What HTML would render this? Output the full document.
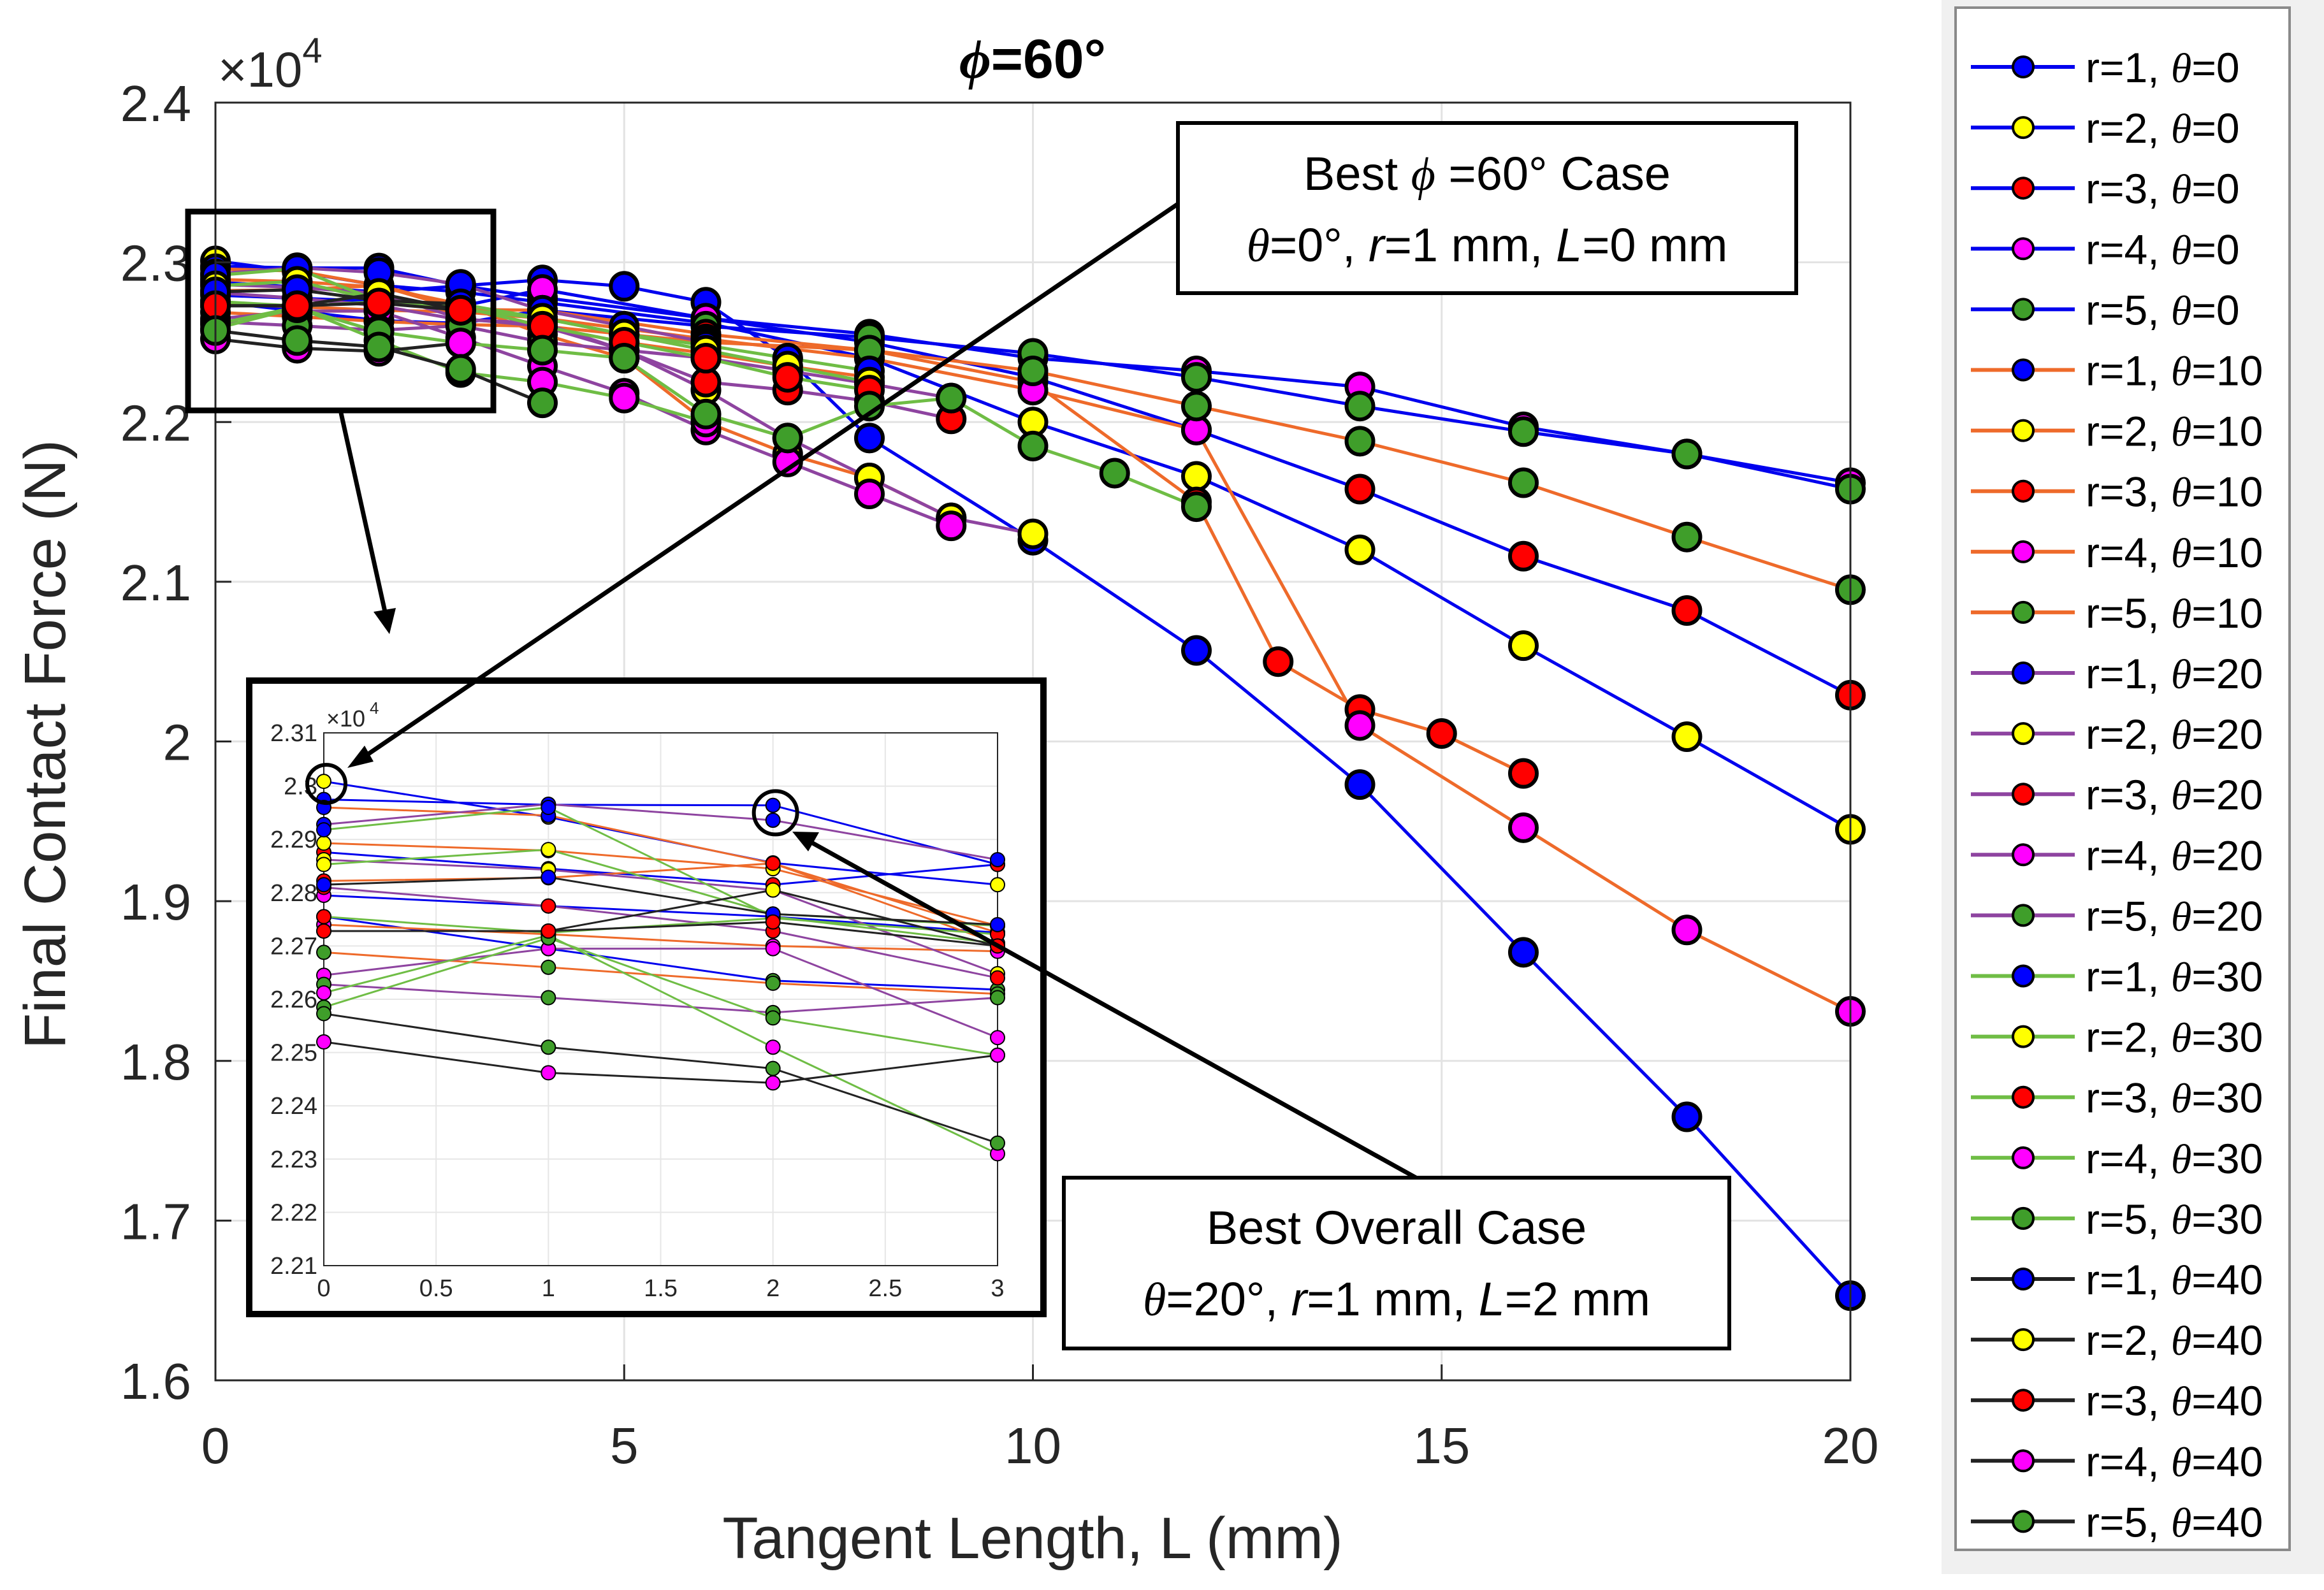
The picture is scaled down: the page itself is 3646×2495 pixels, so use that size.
<!DOCTYPE html>
<html><head><meta charset="utf-8"><title>Final Contact Force vs Tangent Length, phi=60</title>
<style>
html,body{margin:0;padding:0;background:#fff;}
svg text{font-family:"Liberation Sans",sans-serif;}
</style></head>
<body>
<svg id="chart" xmlns="http://www.w3.org/2000/svg" width="3646" height="2490" viewBox="0 0 3646 2490">
<rect x="0" y="0" width="3646" height="2490" fill="#fff"/>
<g id="main-grid"></g>
<g id="main-series"></g>
<rect x="338" y="161" width="2565" height="2005" fill="none" stroke="#262626" stroke-width="3"/>
<g id="main-ticks"></g>
<text x="342" y="136" font-size="78" fill="#262626">×10<tspan dy="-38" font-size="56">4</tspan></text>
<text x="1620" y="122" font-size="86" font-weight="bold" text-anchor="middle" fill="#000"><tspan font-style="italic" font-family="Liberation Serif">ϕ</tspan>=60°</text>
<text x="1620" y="2445" font-size="92" text-anchor="middle" fill="#262626">Tangent Length, L (mm)</text>
<text transform="translate(102,1168) rotate(-90)" font-size="92" text-anchor="middle" fill="#262626">Final Contact Force (N)</text>

<rect x="295" y="332" width="479" height="312" fill="none" stroke="#000" stroke-width="9"/>
<line x1="535" y1="648" x2="604" y2="960" stroke="#000" stroke-width="7"/>
<polygon points="611,995 586,960 621,954" fill="#000"/>

<rect x="391" y="1068" width="1246" height="994" fill="#fff" stroke="#000" stroke-width="10"/>
<g id="inset"></g>

<line x1="1848" y1="320" x2="575" y2="1185" stroke="#000" stroke-width="7"/>
<polygon points="545,1205 572,1170 586,1195" fill="#000"/>
<line x1="2225" y1="1850" x2="1275" y2="1323" stroke="#000" stroke-width="7"/>
<polygon points="1243,1305 1285,1306 1268,1336" fill="#000"/>

<rect x="1848" y="193" width="970" height="267" fill="#fff" stroke="#000" stroke-width="6"/>
<text x="2333" y="298" font-size="74" text-anchor="middle" fill="#000">Best <tspan font-style="italic" font-family="Liberation Serif">ϕ</tspan> =60° Case</text>
<text x="2333" y="410" font-size="74" text-anchor="middle" fill="#000"><tspan font-style="italic" font-family="Liberation Serif">θ</tspan>=0°, <tspan font-style="italic">r</tspan>=1 mm, <tspan font-style="italic">L</tspan>=0 mm</text>

<rect x="1669" y="1848" width="1044" height="268" fill="#fff" stroke="#000" stroke-width="6"/>
<text x="2191" y="1952" font-size="74" text-anchor="middle" fill="#000">Best Overall Case</text>
<text x="2191" y="2064" font-size="74" text-anchor="middle" fill="#000"><tspan font-style="italic" font-family="Liberation Serif">θ</tspan>=20°, <tspan font-style="italic">r</tspan>=1 mm, <tspan font-style="italic">L</tspan>=2 mm</text>

<rect x="3046" y="0" width="600" height="2470" fill="#f0f0f0"/>
<rect x="3068" y="12" width="524" height="2420" fill="#fff" stroke="#8a8a8a" stroke-width="4"/>
<g id="legend"></g>
</svg>
<script>
var xTicks = [0, 5, 10, 15, 20];
var yTicks = [1.6, 1.7, 1.8, 1.9, 2.0, 2.1, 2.2, 2.3, 2.4];
var yTickLabels = ["1.6", "1.7", "1.8", "1.9", "2", "2.1", "2.2", "2.3", "2.4"];
var insetXTicks = [0, 0.5, 1, 1.5, 2, 2.5, 3];
var insetXTickLabels = ["0", "0.5", "1", "1.5", "2", "2.5", "3"];
var insetYTicks = [2.21, 2.22, 2.23, 2.24, 2.25, 2.26, 2.27, 2.28, 2.29, 2.3, 2.31];
var insetYTickLabels = ["2.21", "2.22", "2.23", "2.24", "2.25", "2.26", "2.27", "2.28", "2.29", "2.3", "2.31"];
var thetas = [0, 10, 20, 30, 40];
var radii = [1, 2, 3, 4, 5];
var lineColors = ["#0000ee", "#ee6a2a", "#8e44a0", "#6fbd45", "#222222"];
var markerColors = ["#0000ff", "#ffff00", "#ff0000", "#ff00ff", "#3f9e2a"];

var xT0 = [[0,1,2,3,4,5,6,7,8,10,12,14,16,18,20],[0,1,2,3,4,6,8,10,12,14,16,18,20],[0,1,2,3,4,6,8,10,12,14,16,18,20],[0,1,2,3,4,6,8,10,12,14,16,18,20],[0,1,2,3,4,6,8,10,12,14,16,18,20]];
var yT0 = [[2.2975,2.2965,2.2964,2.2853,2.289,2.285,2.275,2.24,2.19,2.126,2.057,1.973,1.868,1.765,1.653],
 [2.3009,2.2942,2.2856,2.2815,2.275,2.262,2.24,2.2,2.166,2.12,2.06,2.003,1.945],
 [2.2876,2.2845,2.2815,2.2853,2.278,2.265,2.25,2.228,2.195,2.158,2.116,2.082,2.029],
 [2.2795,2.2775,2.2755,2.2725,2.283,2.265,2.255,2.24,2.232,2.222,2.197,2.18,2.162],
 [2.2755,2.2695,2.2635,2.2618,2.27,2.26,2.253,2.243,2.228,2.21,2.194,2.18,2.158]];
var xT10 = [[0,1,2,3,4,5,6,7,8],[0,1,2,3,4,5,6,7,8,9],[0,1,2,3,4,6,8,10,12,13,14,15,16],[0,1,2,3,4,6,8,10,12,14,16,18,20],[0,1,2,3,4,6,8,10,12,14,16,18,20]];
var yT10 = [[2.2960,2.2945,2.2855,2.2725,2.26,2.25,2.243,2.235,2.228],
 [2.2893,2.2879,2.2845,2.2738,2.255,2.24,2.2,2.18,2.165,2.14],
 [2.2822,2.2828,2.2855,2.2705,2.27,2.255,2.245,2.225,2.15,2.05,2.02,2.005,1.98],
 [2.2740,2.2722,2.2700,2.2690,2.265,2.252,2.24,2.22,2.195,2.01,1.946,1.882,1.831],
 [2.2688,2.2660,2.2630,2.2610,2.26,2.25,2.245,2.232,2.21,2.188,2.162,2.128,2.095]];
var xT20 = [[0,1,2,3,4,5,6],[0,1,2,3,4,5,6,7,8,9,10],[0,1,2,3,4,5,6,7,8,9],[0,1,2,3,4,5,6,7,8,9],[0,1,2,3,4,5,6,7,8,9]];
var yT20 = [[2.2928,2.2966,2.2936,2.2862,2.27,2.26,2.25],
 [2.2862,2.2843,2.2805,2.2648,2.26,2.245,2.22,2.19,2.165,2.14,2.13],
 [2.2810,2.2775,2.2728,2.2640,2.262,2.245,2.225,2.22,2.213,2.202],
 [2.2645,2.2695,2.2695,2.2528,2.235,2.218,2.195,2.175,2.155,2.135],
 [2.2628,2.2603,2.2575,2.2603,2.25,2.245,2.24,2.232,2.224,2.215]];
var xT30 = [[0,1,2,3,4,5,6,7,8],[0,1,2,3,4,5,6,7,8],[0,1,2,3,4,5,6,7,8],[0,1,2,3,4,5,6],[0,1,2,3,4,5,6,7,8,9,10,11,12]];
var yT30 = [[2.2918,2.2960,2.2755,2.2705,2.265,2.255,2.248,2.24,2.232],
 [2.2853,2.2881,2.2760,2.2738,2.265,2.255,2.245,2.235,2.225],
 [2.2755,2.2725,2.2752,2.2722,2.26,2.25,2.24,2.228,2.22],
 [2.2612,2.2720,2.2510,2.2310,2.225,2.215,2.2],
 [2.2585,2.2715,2.2565,2.2495,2.245,2.24,2.205,2.19,2.21,2.215,2.185,2.168,2.147]];
var xT40 = [[0,1,2,3],[0,1,2,3],[0,1,2,3],[0,1,2,3],[0,1,2,3,4]];
var yT40 = [[2.2815,2.2829,2.2760,2.2740],
 [2.2728,2.2728,2.2805,2.2700],
 [2.2728,2.2728,2.2745,2.2700],
 [2.2520,2.2462,2.2443,2.2495],
 [2.2573,2.2510,2.2470,2.2330,2.212]];

var allX = [xT0, xT10, xT20, xT30, xT40];
var allY = [yT0, yT10, yT20, yT30, yT40];

var NS = "http://www.w3.org/2000/svg";
function mk(tag, attrs, parent) {
  var e = document.createElementNS(NS, tag);
  for (var k in attrs) e.setAttribute(k, attrs[k]);
  parent.appendChild(e);
  return e;
}
var L = 338, R = 2903, T = 161, B = 2166;
function sx(v) { return L + (v - 0) / 20 * (R - L); }
function sy(v) { return B - (v - 1.6) / 0.8 * (B - T); }
var grid = document.getElementById("main-grid");
var ticks = document.getElementById("main-ticks");
xTicks.forEach(function (t) {
  var g = mk("line", {x1: sx(t), x2: sx(t), y1: T, y2: B, stroke: "#e3e3e3", "stroke-width": 3}, grid);
  
  
  var k = mk("line", {x1: sx(t), x2: sx(t), y1: B, y2: B - 25, stroke: "#262626", "stroke-width": 3}, ticks);
  
  
  var tx = mk("text", {x: sx(t), y: 2296, "font-size": 80, "text-anchor": "middle", fill: "#262626"}, ticks);
  tx.textContent = String(t);
  
  
});
yTicks.forEach(function (t, i) {
  var g = mk("line", {x1: L, x2: R, y1: sy(t), y2: sy(t), stroke: "#e3e3e3", "stroke-width": 3}, grid);
  
  
  var k = mk("line", {x1: L, x2: L + 25, y1: sy(t), y2: sy(t), stroke: "#262626", "stroke-width": 3}, ticks);
  
  
  var tx = mk("text", {x: 300, y: sy(t) + 29, "font-size": 80, "text-anchor": "end", fill: "#262626"}, ticks);
  tx.textContent = yTickLabels[i];
  
  
});
var ser = document.getElementById("main-series");
for (var ti = 0; ti < thetas.length; ti++) {
  for (var ri = 0; ri < radii.length; ri++) {
    var xs = allX[ti][ri], ys = allY[ti][ri];
    var pts = xs.map(function (x, j) { return sx(x) + "," + sy(ys[j]); }).join(" ");
    var pl = mk("polyline", {points: pts, fill: "none", stroke: lineColors[ti], "stroke-width": 5}, ser);
    
    
  }
}
for (var ti = 0; ti < thetas.length; ti++) {
  for (var ri = 0; ri < radii.length; ri++) {
    var xs = allX[ti][ri], ys = allY[ti][ri];
    for (var j = 0; j < xs.length; j++) {
      var c = mk("circle", {cx: sx(xs[j]), cy: sy(ys[j]), r: 21, fill: markerColors[ri], stroke: "#000", "stroke-width": 6}, ser);
      
      
    }
  }
}
var iL = 508, iR = 1565, iT = 1150, iB = 1986;
function ix(v) { return iL + v / 3 * (iR - iL); }
function iy(v) { return iB - (v - 2.21) / 0.1 * (iB - iT); }
var ins = document.getElementById("inset");
var defs = mk("defs", {}, ins);
var cp = mk("clipPath", {id: "insetClip"}, defs);
mk("rect", {x: iL - 14, y: iT, width: iR - iL + 28, height: iB - iT}, cp);
insetXTicks.forEach(function (t, i) {
  var g = mk("line", {x1: ix(t), x2: ix(t), y1: iT, y2: iB, stroke: "#e6e6e6", "stroke-width": 2}, ins);
  
  
  var tx = mk("text", {x: ix(t), y: iB + 48, "font-size": 38, "text-anchor": "middle", fill: "#262626"}, ins);
  tx.textContent = insetXTickLabels[i];
  
  
});
insetYTicks.forEach(function (t, i) {
  var g = mk("line", {x1: iL, x2: iR, y1: iy(t), y2: iy(t), stroke: "#e6e6e6", "stroke-width": 2}, ins);
  
  
  var tx = mk("text", {x: iL - 10, y: iy(t) + 13, "font-size": 38, "text-anchor": "end", fill: "#262626"}, ins);
  tx.textContent = insetYTickLabels[i];
  
  
});
var ib = mk("rect", {x: iL, y: iT, width: iR - iL, height: iB - iT, fill: "none", stroke: "#262626", "stroke-width": 2}, ins);


var ie = mk("text", {x: 512, y: 1140, "font-size": 36, fill: "#262626"}, ins);
ie.textContent = "×10";


var ie4 = mk("text", {x: 580, y: 1120, "font-size": 26, fill: "#262626"}, ins);
ie4.textContent = "4";


var ig = mk("g", {"clip-path": "url(#insetClip)"}, ins);
for (var ti = 0; ti < thetas.length; ti++) {
  for (var ri = 0; ri < radii.length; ri++) {
    var xs = allX[ti][ri], ys = allY[ti][ri];
    var p = [];
    for (var j = 0; j < xs.length; j++) if (xs[j] <= 3) p.push(ix(xs[j]) + "," + iy(ys[j]));
    var pl = mk("polyline", {points: p.join(" "), fill: "none", stroke: lineColors[ti], "stroke-width": 3}, ig);
    
    
  }
}
for (var ti = 0; ti < thetas.length; ti++) {
  for (var ri = 0; ri < radii.length; ri++) {
    var xs = allX[ti][ri], ys = allY[ti][ri];
    for (var j = 0; j < xs.length; j++) {
      if (xs[j] > 3) continue;
      var c = mk("circle", {cx: ix(xs[j]), cy: iy(ys[j]), r: 11, fill: markerColors[ri], stroke: "#000", "stroke-width": 2}, ig);
      
      
    }
  }
}
var hc1 = mk("circle", {cx: ix(0) + 4, cy: iy(2.3009) + 4, r: 30, fill: "none", stroke: "#000", "stroke-width": 6}, ins);


var hc2 = mk("circle", {cx: ix(2) + 4, cy: iy(2.2950), r: 34, fill: "none", stroke: "#000", "stroke-width": 6}, ins);


var lg = document.getElementById("legend");
var row = 0;
for (var ti = 0; ti < thetas.length; ti++) {
  for (var ri = 0; ri < radii.length; ri++) {
    var y = 105 + row * 95.1;
    var gg = mk("g", {}, lg);
    
    
    mk("line", {x1: 3092, x2: 3255, y1: y, y2: y, stroke: lineColors[ti], "stroke-width": 6}, gg);
    mk("circle", {cx: 3174, cy: y, r: 16, fill: markerColors[ri], stroke: "#000", "stroke-width": 4}, gg);
    var t = mk("text", {x: 3272, y: y + 24, "font-size": 66, fill: "#000"}, gg);
    t.innerHTML = "r=" + radii[ri] + ", <tspan font-style='italic' font-family='Liberation Serif'>θ</tspan>=" + thetas[ti];
    row++;
  }
}
</script>
</body></html>
